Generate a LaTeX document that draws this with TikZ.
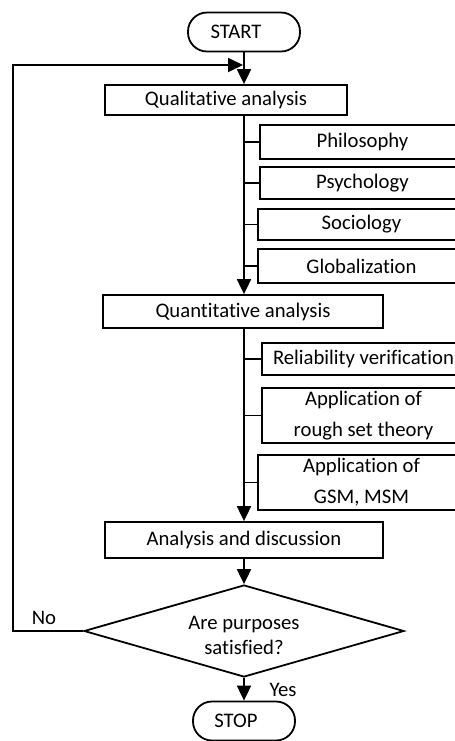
\documentclass[tikz,border=0pt]{standalone}
\usepackage{fontspec}
\setmainfont{Carlito}[Ligatures=NoCommon]
\usetikzlibrary{shapes.geometric,arrows.meta}
\begin{document}
\begin{tikzpicture}[x=0.5pt,y=-0.5pt,
  font=\fontsize{10.35}{15.5}\selectfont,
  line width=0.9pt,
  box/.style={draw, rectangle, inner sep=0pt, align=center},
  sidebox/.style={box, minimum width=102.5pt},
  term/.style={draw, rectangle, rounded corners=9.5pt, inner sep=0pt,
               minimum height=19.5pt},
  decision/.style={draw, diamond, inner sep=0pt},
  flow/.style={-{Triangle[length=7.5pt,width=7pt]}},
  lbl/.style={inner sep=0pt}]
\useasboundingbox[fill=white] (0,0) rectangle (455,741);

% terminators
\node[term, minimum width=56pt] (start) at (244,32) {START\hspace*{8pt}};
\node[term, minimum width=51pt] (stop) at (244,721) {STOP\hspace*{8pt}};

% main steps
\node[box, minimum width=121pt, minimum height=15pt] (qual) at (226,100) {Qualitative analysis};
\node[box, minimum width=140pt, minimum height=16.5pt] (quant) at (243,311.5) {Quantitative analysis};
\node[box, minimum width=139pt, minimum height=18pt] (ana) at (244,540) {Analysis and discussion};

% qualitative aspects
\node[sidebox, minimum height=17pt] (phil) at (362.5,142) {Philosophy};
\node[sidebox, minimum height=16pt] (psych) at (362.5,183) {Psychology};
\node[sidebox, minimum width=103.5pt, minimum height=15.5pt] (soc) at (361.5,224.5) {Sociology};
\node[sidebox, minimum width=103.5pt, minimum height=17pt] (glob) at (361.5,266) {Globalization};

% quantitative methods
\node[sidebox, minimum width=101.5pt, minimum height=16pt] (rel) at (363.5,359) {Reliability verification};
\node[sidebox, minimum width=101.5pt, minimum height=27.5pt] (rough) at (363.5,415.5) {Application of\\rough set theory};
\node[sidebox, minimum width=103.5pt, minimum height=27.5pt] (gsm) at (361.5,482.5) {Application of\\GSM, MSM};

% decision
\node[decision, minimum width=160pt, minimum height=46pt,
      label={[align=center, inner sep=0pt, yshift=-2pt,
              font=\fontsize{10.35}{12.5}\selectfont]center:Are purposes\\satisfied?}] (dec) at (244,631) {};

% branch labels
\node[lbl] (no) at (44,618) {No};
\node[lbl] (yes) at (283,690) {Yes};

% main flow
\draw[flow] (start) -- (qual.north -| start.south);
\draw[flow] (qual.south -| start.south) -- (quant.north -| start.south);
\draw[flow] (quant.south -| start.south) -- (ana.north -| start.south);
\draw[flow] (ana.south -| start.south) -- (dec.north);
\draw[flow] (dec.south) -- (stop.north);

% branches to the side boxes
\foreach \n in {phil,psych,soc,glob,rel,rough,gsm}
  \draw (\n.west -| start.south) -- (\n.west);

% feedback loop
\coordinate (loopcorner) at (13,65);
\coordinate (loopin) at (243,65);
\draw[flow] (dec.west) -| (loopcorner) -- (loopin);
\end{tikzpicture}
\end{document}
